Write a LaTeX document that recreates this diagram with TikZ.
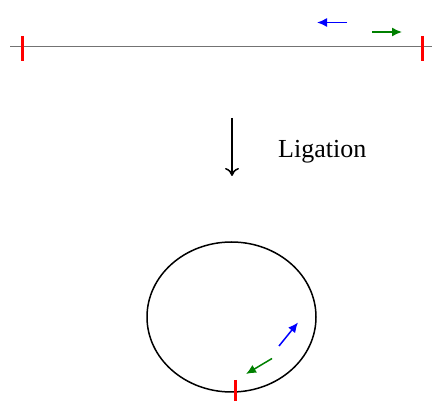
\documentclass[tikz,border=0pt]{standalone}
\usepackage{fontspec}
\setmainfont{Liberation Serif}
\usetikzlibrary{arrows.meta}
\definecolor{myblue}{RGB}{0,0,255}
\definecolor{mygreen}{RGB}{0,128,0}
\definecolor{myred}{RGB}{255,0,0}
\tikzset{
  dna/.style={draw=black!55, line width=1.2pt},
  cut/.style={draw=myred, line width=3pt},
  primer/.style={line width=1.5pt, -{Latex[length=10pt,width=9pt]}},
  bigarrow/.style={draw=black, line width=1.5pt, -{To[length=8pt,width=14pt]}}
}
\begin{document}
\begin{tikzpicture}[x=1pt,y=-1pt]
\useasboundingbox (0,0) rectangle (432,401);
% linear DNA
\coordinate (L0) at (10,46.5);
\coordinate (L1) at (432,46.5);
\draw[dna] (L0) -- (L1);
\coordinate (t1a) at (22,36); \coordinate (t1b) at (22,61);
\coordinate (t2a) at (422,36); \coordinate (t2b) at (422,61);
\draw[cut] (t1a) -- (t1b);
\draw[cut] (t2a) -- (t2b);
% primers on linear
\coordinate (b1) at (347,22.5); \coordinate (b2) at (317,22.5);
\coordinate (g1) at (372,32); \coordinate (g2) at (402,32);
\draw[primer, myblue] (b1) -- (b2);
\draw[primer, mygreen] (g1) -- (g2);
% ligation arrow
\coordinate (a1) at (232,118); \coordinate (a2) at (232,176);
\draw[bigarrow] (a1) -- (a2);
\node[font=\fontsize{26}{30}\selectfont, anchor=west, inner sep=0pt] (lig) at (278,152) {Ligation};
% circle
\draw[line width=1.5pt] (231.5,317) ellipse [x radius=84.5, y radius=75];
\coordinate (c1) at (235.5,380); \coordinate (c2) at (235.5,401);
\draw[cut] (c1) -- (c2);
\coordinate (cb1) at (279,346); \coordinate (cb2) at (298,322.5);
\coordinate (cg1) at (272,358.5); \coordinate (cg2) at (246,374);
\draw[primer, myblue] (cb1) -- (cb2);
\draw[primer, mygreen] (cg1) -- (cg2);
\end{tikzpicture}
\end{document}
